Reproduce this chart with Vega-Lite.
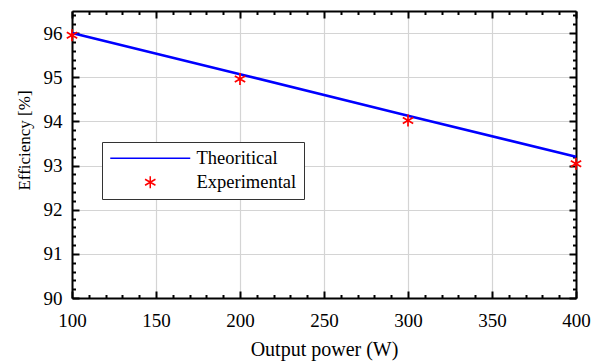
{
  "$schema": "https://vega.github.io/schema/vega-lite/v6.json",
  "width": 504,
  "height": 287,
  "autosize": "none",
  "padding": {"left": 72, "top": 11, "right": 25, "bottom": 64},
  "background": "white",
  "config": {
    "font": "Liberation Serif",
    "view": {"stroke": null},
    "axis": {
      "domainColor": "black",
      "domainWidth": 2,
      "tickColor": "black",
      "tickWidth": 2,
      "labelFont": "Liberation Serif",
      "labelFontSize": 19,
      "labelColor": "black",
      "titleFont": "Liberation Serif",
      "titleFontWeight": "normal",
      "titleColor": "black",
      "gridColor": "#d4d4d4",
      "gridWidth": 1.2
    },
    "legend": {"labelFont": "Liberation Serif"}
  },
  "datasets": {
    "theory": [
      {"power": 100, "eff": 96.0, "series": "Theoritical"},
      {"power": 200, "eff": 95.07, "series": "Theoritical"},
      {"power": 300, "eff": 94.13, "series": "Theoritical"},
      {"power": 400, "eff": 93.2, "series": "Theoritical"}
    ],
    "exp": [
      {"power": 100, "eff": 95.95, "series": "Experimental"},
      {"power": 200, "eff": 94.96, "series": "Experimental"},
      {"power": 300, "eff": 94.02, "series": "Experimental"},
      {"power": 400, "eff": 93.04, "series": "Experimental"}
    ]
  },
  "resolve": {"axis": {"x": "independent", "y": "independent"}},
  "layer": [
    {
      "data": {"name": "theory"},
      "mark": {"type": "line", "strokeWidth": 2.6, "clip": false, "color": "#0000ff"},
      "encoding": {
        "x": {
          "field": "power", "type": "quantitative",
          "scale": {"domain": [100, 400], "nice": false, "zero": false},
          "axis": {
            "orient": "bottom",
            "title": "Output power (W)",
            "titleFont": "Liberation Serif",
            "titleFontSize": 20,
            "titlePadding": 6,
            "labelFont": "Liberation Serif",
            "values": [100,110,120,130,140,150,160,170,180,190,200,210,220,230,240,250,260,270,280,290,300,310,320,330,340,350,360,370,380,390,400],
            "labelExpr": "datum.value % 50 == 0 ? datum.label : ''",
            "tickSize": {"condition": {"test": "datum.value % 50 == 0", "value": -7}, "value": -3.5},
            "grid": true,
            "gridOpacity": {"condition": {"test": "datum.value % 50 == 0", "value": 1}, "value": 0},
            "labelPadding": 20,
            "labelFlush": false,
            "labelOverlap": false
          }
        },
        "y": {
          "field": "eff", "type": "quantitative",
          "scale": {"domain": [90, 96.5], "nice": false, "zero": false},
          "axis": {
            "orient": "left",
            "title": "Efficiency [%]",
            "titleFont": "Liberation Serif",
            "titleFontSize": 17,
            "titlePadding": 10,
            "titleY": 129,
            "labelFont": "Liberation Serif",
            "values": [90,90.2,90.4,90.6,90.8,91,91.2,91.4,91.6,91.8,92,92.2,92.4,92.6,92.8,93,93.2,93.4,93.6,93.8,94,94.2,94.4,94.6,94.8,95,95.2,95.4,95.6,95.8,96,96.2,96.4],
            "labelExpr": "abs(datum.value - round(datum.value)) < 0.01 ? format(datum.value, 'd') : ''",
            "tickSize": {"condition": {"test": "abs(datum.value - round(datum.value)) < 0.01", "value": -7}, "value": -3.5},
            "grid": true,
            "gridOpacity": {"condition": {"test": "abs(datum.value - round(datum.value)) < 0.01", "value": 1}, "value": 0},
            "labelPadding": 17,
            "labelFlush": false,
            "labelOverlap": false
          }
        }
      }
    },
    {
      "data": {"name": "exp"},
      "mark": {"type": "point", "filled": false, "size": 100, "strokeWidth": 1.7, "opacity": 1, "clip": false},
      "encoding": {
        "x": {
          "field": "power", "type": "quantitative",
          "axis": {
            "orient": "top",
            "title": null,
            "labels": false,
            "grid": false,
            "values": [100,110,120,130,140,150,160,170,180,190,200,210,220,230,240,250,260,270,280,290,300,310,320,330,340,350,360,370,380,390,400],
            "tickSize": {"condition": {"test": "datum.value % 50 == 0", "value": -7}, "value": -3.5}
          }
        },
        "y": {
          "field": "eff", "type": "quantitative",
          "axis": {
            "orient": "right",
            "title": null,
            "labels": false,
            "grid": false,
            "values": [90,90.2,90.4,90.6,90.8,91,91.2,91.4,91.6,91.8,92,92.2,92.4,92.6,92.8,93,93.2,93.4,93.6,93.8,94,94.2,94.4,94.6,94.8,95,95.2,95.4,95.6,95.8,96,96.2,96.4],
            "tickSize": {"condition": {"test": "abs(datum.value - round(datum.value)) < 0.01", "value": -7}, "value": -3.5}
          }
        },
        "color": {
          "field": "series", "type": "nominal",
          "scale": {"domain": ["Theoritical", "Experimental"], "range": ["#0000ff", "#ff0000"]},
          "legend": {
            "title": null,
            "orient": "none",
            "legendX": 30,
            "legendY": 131,
            "fillColor": "white",
            "strokeColor": "#333333",
            "padding": 7,
            "symbolSize": 100,
            "symbolOffset": 32,
            "labelOffset": 37,
            "labelFont": "Liberation Serif",
            "labelFontSize": 18.5,
            "labelColor": "black",
            "rowPadding": 5,
            "encode": {
              "symbols": {"update": {"strokeWidth": {"signal": "datum.value === 'Theoritical' ? 2.6 : 1.7"}}}
            }
          }
        },
        "shape": {
          "field": "series", "type": "nominal",
          "scale": {"domain": ["Theoritical", "Experimental"], "range": ["M-8,0H8", "M0,-1.2V1.2M-1.04,-0.6L1.04,0.6M-1.04,0.6L1.04,-0.6"]}
        }
      }
    }
  ]
}
